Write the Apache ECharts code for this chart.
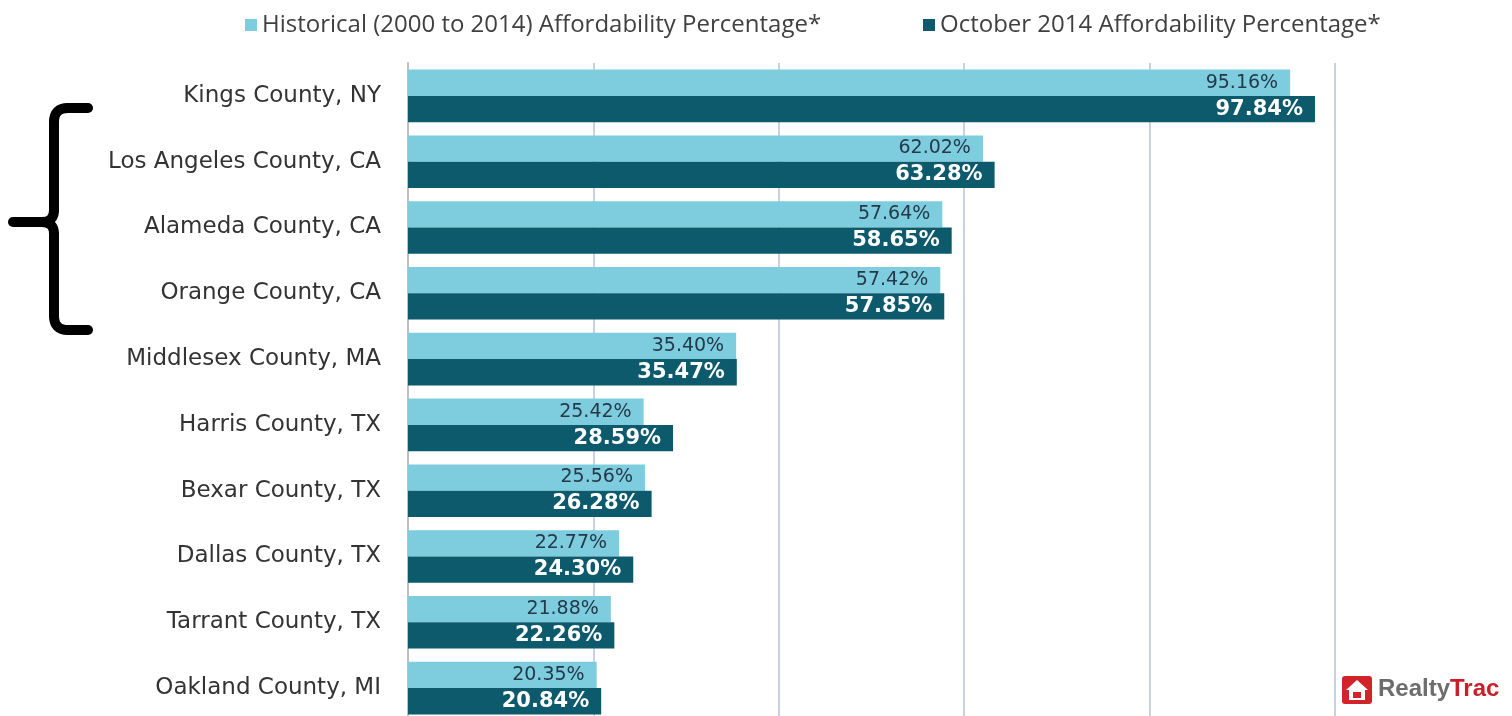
<!DOCTYPE html>
<html>
<head>
<meta charset="utf-8">
<script src="https://cdn.jsdelivr.net/npm/echarts@6/dist/echarts.min.js"></script>
<style>
html,body{margin:0;padding:0;background:#fff;}
#c{width:1512px;height:716px;}
</style>
</head>
<body>
<div id="c"></div>
<script>
const categories = ["Kings County, NY","Los Angeles County, CA","Alameda County, CA","Orange County, CA","Middlesex County, MA","Harris County, TX","Bexar County, TX","Dallas County, TX","Tarrant County, TX","Oakland County, MI"];
const historical = [95.16,62.02,57.64,57.42,35.40,25.42,25.56,22.77,21.88,20.35];
const october2014 = [97.84,63.28,58.65,57.85,35.47,28.59,26.28,24.30,22.26,20.84];
const seriesNames = ["Historical (2000 to 2014) Affordability Percentage*","October 2014 Affordability Percentage*"];

const braceStyle = {fill:null, stroke:'#000', lineWidth:10, lineCap:'round', lineJoin:'round'};
const legendText = {fontFamily:'Open Sans', fontSize:24, color:'#404040'};
const chart = echarts.init(document.getElementById('c'));
chart.setOption({
  animation:false,
  backgroundColor:'#fff',
  legend:[
    {left:240, top:8, itemWidth:12, itemHeight:12, icon:'rect', textStyle:legendText, data:[seriesNames[0]]},
    {left:918, top:8, itemWidth:12, itemHeight:12, icon:'rect', textStyle:legendText, data:[seriesNames[1]]}
  ],
  grid:{left:408, right:177, top:63, height:658, containLabel:false, outerBoundsMode:'none'},
  xAxis:{
    type:'value', min:0, max:100, interval:20,
    axisLabel:{show:false}, axisLine:{show:false}, axisTick:{show:false},
    splitLine:{lineStyle:{color:'#C8D2E2', width:2}}
  },
  yAxis:{
    type:'category', inverse:true, data:categories,
    axisLine:{lineStyle:{color:'#BFBFBF', width:2}},
    axisTick:{length:7, lineStyle:{color:'#BFBFBF', width:2}},
    axisLabel:{fontFamily:'DejaVu Sans', fontSize:23, color:'#333', margin:27}
  },
  series:[
    {
      name:seriesNames[0], type:'bar', data:historical,
      barGap:'0%', barCategoryGap:'20%',
      itemStyle:{color:'#7DCDDF'},
      label:{show:true, position:'insideRight', distance:12, formatter:p=>p.value.toFixed(2)+'%',
        fontFamily:'DejaVu Sans', fontSize:19, color:'#24394a'}
    },
    {
      name:seriesNames[1], type:'bar', data:october2014,
      barGap:'0%', barCategoryGap:'20%',
      itemStyle:{color:'#0C5A6B'},
      label:{show:true, position:'insideRight', distance:12, formatter:p=>p.value.toFixed(2)+'%',
        fontFamily:'DejaVu Sans', fontSize:21, fontWeight:'bold', color:'#fff'}
    }
  ],
  graphic:[
    {type:'line', shape:{x1:88,y1:108,x2:68,y2:108}, style:braceStyle},
    {type:'bezierCurve', shape:{x1:68,y1:108,x2:54,y2:122,cpx1:54,cpy1:108}, style:braceStyle},
    {type:'line', shape:{x1:54,y1:122,x2:54,y2:210}, style:braceStyle},
    {type:'bezierCurve', shape:{x1:54,y1:210,x2:42,y2:222,cpx1:54,cpy1:222}, style:braceStyle},
    {type:'line', shape:{x1:42,y1:222,x2:13,y2:222}, style:braceStyle},
    {type:'bezierCurve', shape:{x1:42,y1:222,x2:54,y2:234,cpx1:54,cpy1:222}, style:braceStyle},
    {type:'line', shape:{x1:54,y1:234,x2:54,y2:316}, style:braceStyle},
    {type:'bezierCurve', shape:{x1:54,y1:316,x2:68,y2:330,cpx1:54,cpy1:330}, style:braceStyle},
    {type:'line', shape:{x1:68,y1:330,x2:88,y2:330}, style:braceStyle},
    {
      type:'group', left:1342, top:676,
      children:[
        {type:'rect', shape:{x:0,y:0,width:30,height:28,r:3}, style:{fill:'#D2232A'}},
        {type:'polygon', shape:{points:[[15,4],[26,14],[23,14],[23,24],[7,24],[7,14],[4,14]]}, style:{fill:'#fff'}},
        {type:'rect', shape:{x:11,y:16,width:8,height:6}, style:{fill:'#D2232A'}},
        {type:'text', left:36, top:1, style:{
          text:'{a|Realty}{b|Trac}',
          rich:{
            a:{fontFamily:'Liberation Sans', fontWeight:'bold', fontSize:24, fill:'#6d6d6d', color:'#6d6d6d'},
            b:{fontFamily:'Liberation Sans', fontWeight:'bold', fontSize:24, fill:'#C8202A', color:'#C8202A'}
          }
        }}
      ]
    }
  ]
});
</script>
</body>
</html>
